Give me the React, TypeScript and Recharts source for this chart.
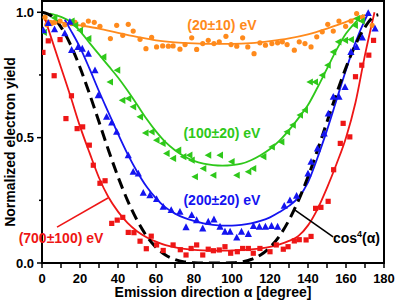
import React from "react";
import {
  ComposedChart,
  Line,
  Scatter,
  XAxis,
  YAxis,
  ReferenceArea,
  ReferenceLine,
  ReferenceDot,
} from "recharts";

// measured points, [angle in degree, normalized yield]
const pts20: [number, number][] = [
  [1.6, 0.98], [2.5, 0.95], [5, 0.955], [6.8, 0.96], [9.5, 0.965], [12, 0.95],
  [15.6, 0.955], [17.4, 0.96], [21.7, 0.95], [24.4, 0.965], [27.5, 0.96], [30.5, 0.944],
  [36, 0.895], [39.3, 0.948], [42.5, 0.908], [45.4, 0.952], [48, 0.925], [51.6, 0.892],
  [54.7, 0.855], [57.7, 0.9], [60.3, 0.862], [63.5, 0.866], [66.5, 0.865], [69, 0.866],
  [72.6, 0.853], [75.3, 0.871], [78.8, 0.898], [81.4, 0.852], [84.6, 0.875], [87.5, 0.888],
  [90.5, 0.875], [93.3, 0.882], [96.8, 0.904], [99.5, 0.871], [102.5, 0.865], [105.6, 0.898],
  [108.3, 0.862], [111.6, 0.835], [114.7, 0.878], [117.6, 0.869], [121, 0.875], [124, 0.878],
  [126.5, 0.882], [129, 0.871], [132.8, 0.849], [135.4, 0.882], [138.4, 0.875], [141.6, 0.862],
  [144.6, 0.902], [147.5, 0.922], [150.4, 0.952], [153.3, 0.925], [156.3, 0.965], [159.8, 0.944],
  [162.6, 0.965], [165.6, 0.995], [168.6, 0.98], [173.8, 0.948],
];

const pts100: [number, number][] = [
  [1, 0.92], [6.5, 0.978], [15.6, 0.965], [17.5, 0.948], [20, 0.928], [24.4, 0.895],
  [32.3, 0.822], [35.8, 0.722], [39.6, 0.769], [42.3, 0.649], [45.4, 0.656], [48, 0.623],
  [51.6, 0.583], [54.5, 0.519], [57.7, 0.523], [60.3, 0.49], [63.5, 0.477], [65.6, 0.437],
  [69, 0.417], [71.7, 0.45], [74.4, 0.424], [77.6, 0.43], [78.8, 0.41], [80.5, 0.344],
  [84.9, 0.377], [87.5, 0.43], [90.2, 0.35], [93.7, 0.43], [99.8, 0.404], [102.5, 0.35],
  [108.6, 0.364], [111.2, 0.377], [116.5, 0.424], [121, 0.463], [126, 0.483], [129, 0.523],
  [132, 0.55], [135.8, 0.59], [138.4, 0.61], [141, 0.722], [143.7, 0.722], [147.5, 0.749],
  [150.4, 0.789], [153.3, 0.842], [156, 0.882], [159.5, 0.888], [162.6, 0.891], [164.7, 0.948],
  [165.8, 0.975], [168.3, 0.965],
];

const pts200: [number, number][] = [
  [0.7, 0.928], [3.3, 0.957], [6.6, 0.932], [12, 0.916], [14.7, 0.962], [15.6, 0.85],
  [19, 0.862], [21.2, 0.855], [24.4, 0.835], [27.9, 0.769], [29.6, 0.669], [34, 0.583],
  [36.7, 0.56], [39.3, 0.523], [45.4, 0.43], [48, 0.364], [50.7, 0.357], [53.3, 0.28],
  [56.8, 0.27], [60.3, 0.255], [63.8, 0.224], [68, 0.211], [72.6, 0.204], [75.8, 0.143],
  [78.8, 0.191], [81.4, 0.171], [84.6, 0.138], [87.5, 0.165], [90.5, 0.174], [93.7, 0.145],
  [96.3, 0.125], [99, 0.125], [102.5, 0.102], [105, 0.125], [108.6, 0.116], [111.3, 0.148],
  [114.4, 0.145], [117.6, 0.145], [120.8, 0.148], [124, 0.145], [127.5, 0.228], [130.5, 0.25],
  [134, 0.268], [140, 0.357], [141.6, 0.404], [145, 0.457], [148.5, 0.517], [150.7, 0.596],
  [153.3, 0.663], [156.3, 0.663], [159.5, 0.702], [162.6, 0.842], [165.6, 0.862], [168.6, 0.899],
  [171.7, 0.997], [175.3, 0.935],
];

const pts700: [number, number][] = [
  [0.5, 0.84], [3.3, 0.886], [6.4, 0.747], [9.5, 0.891], [12.6, 0.576], [15.5, 0.667],
  [18.5, 0.536], [21.4, 0.543], [24.9, 0.47], [27, 0.39], [30.5, 0.318], [33.2, 0.328],
  [36.7, 0.158], [39.6, 0.171], [42.5, 0.182], [45.4, 0.122], [48.4, 0.121], [51.6, 0.087],
  [54.9, 0.057], [57.5, 0.107], [60.3, 0.072], [63.8, 0.05], [69, 0.072], [72.8, 0.053],
  [75.8, 0.032], [78.5, 0.058], [81.4, 0.072], [84.6, 0.032], [87.5, 0.055], [90.2, 0.049],
  [93.3, 0.052], [96.3, 0.065], [99.3, 0.039], [102.8, 0.045], [105.6, 0.058], [108.6, 0.058],
  [111.2, 0.039], [114.7, 0.058], [120, 0.045], [123.3, 0.072], [127, 0.055], [129.5, 0.065],
  [132.8, 0.088], [135.4, 0.093], [139, 0.092], [141.6, 0.106], [144, 0.218], [146.8, 0.222],
  [150.6, 0.246], [153.5, 0.372], [157, 0.477], [158.5, 0.557], [162, 0.503], [165, 0.743],
  [168.3, 0.789], [172, 0.829], [174.5, 0.888],
];

// fitted curves
const fit20: [number, number][] = [
  [1, 0.97], [10, 0.96], [20, 0.948], [30, 0.935], [40, 0.918], [50, 0.902], [60, 0.888],
  [70, 0.88], [80, 0.876], [90, 0.874], [100, 0.874], [110, 0.877], [120, 0.885], [130, 0.896],
  [140, 0.912], [150, 0.935], [160, 0.962], [170, 0.99],
];

const fit100: [number, number][] = [
  [4, 0.995], [10, 0.982], [15, 0.962], [20, 0.925], [25, 0.878], [30, 0.832], [35, 0.786],
  [40, 0.74], [45, 0.688], [50, 0.632], [55, 0.575], [60, 0.525], [65, 0.482], [70, 0.45],
  [75, 0.425], [80, 0.407], [85, 0.396], [90, 0.39], [95, 0.388], [100, 0.39], [105, 0.396],
  [110, 0.41], [115, 0.43], [120, 0.455], [125, 0.488], [130, 0.53], [135, 0.578], [140, 0.63],
  [145, 0.7], [150, 0.775], [155, 0.85], [160, 0.915], [165, 0.96], [169, 0.99],
];

const fit200: [number, number][] = [
  [12, 0.97], [15, 0.93], [20, 0.86], [25, 0.775], [30, 0.685], [35, 0.6], [40, 0.515],
  [45, 0.435], [50, 0.365], [55, 0.305], [60, 0.258], [65, 0.222], [70, 0.197], [75, 0.18],
  [80, 0.168], [85, 0.158], [90, 0.152], [95, 0.149], [100, 0.149], [105, 0.152], [110, 0.158],
  [115, 0.168], [120, 0.182], [125, 0.203], [130, 0.228], [135, 0.262], [140, 0.322],
  [145, 0.42], [150, 0.53], [155, 0.65], [160, 0.77], [165, 0.88], [170, 0.97], [172, 1.0],
];

const fit700: [number, number][] = [
  [1.5, 0.975], [5, 0.895], [10, 0.78], [15, 0.665], [20, 0.545], [25, 0.44], [30, 0.34],
  [35, 0.262], [40, 0.205], [45, 0.16], [50, 0.127], [55, 0.103], [60, 0.085], [65, 0.071],
  [70, 0.062], [75, 0.056], [80, 0.052], [85, 0.05], [90, 0.049], [95, 0.049], [100, 0.05],
  [105, 0.051], [110, 0.054], [115, 0.058], [120, 0.064], [125, 0.074], [130, 0.088],
  [135, 0.108], [140, 0.15], [145, 0.215], [150, 0.3], [155, 0.395], [160, 0.5], [165, 0.64],
  [170, 0.83], [175, 1.0],
];

// cos^4(alpha) reference
const cos4: [number, number][] = [
  [0, 1], [5, 0.985], [10, 0.941], [15, 0.871], [20, 0.78], [25, 0.675], [30, 0.563],
  [35, 0.45], [40, 0.344], [45, 0.25], [50, 0.171], [55, 0.108], [60, 0.0625], [65, 0.032],
  [70, 0.014], [75, 0.0045], [80, 0.0009], [85, 0.0001], [90, 0], [95, 0.0001], [100, 0.0009],
  [105, 0.0045], [110, 0.014], [115, 0.032], [120, 0.0625], [125, 0.108], [130, 0.171],
  [135, 0.25], [140, 0.344], [145, 0.45], [150, 0.563], [155, 0.675], [160, 0.78],
  [165, 0.871], [170, 0.941], [175, 0.985], [177, 0.99],
];

const xTicks = [0, 10, 20, 30, 40, 50, 60, 70, 80, 90, 100, 110, 120, 130, 140, 150, 160, 170, 180];
const yTicks = [0, 0.25, 0.5, 0.75, 1];

const ORANGE = "#ff8a1c";
const GREEN = "#2ec81a";
const BLUE = "#1414f0";
const RED = "#ee1616";
const FONT = "'Liberation Sans', Arial, sans-serif";

const toXY = (arr: [number, number][]) => arr.map(([x, y]) => ({ x, y }));

const Circle = ({ cx, cy }: any) => <circle cx={cx} cy={cy} r={2.6} fill={ORANGE} />;
const TriLeft = ({ cx, cy }: any) => (
  <path d={`M${cx - 3.6},${cy} L${cx + 3},${cy - 3.6} L${cx + 3},${cy + 3.6} Z`} fill={GREEN} />
);
const TriUp = ({ cx, cy }: any) => (
  <path d={`M${cx},${cy - 3.8} L${cx + 3.6},${cy + 3} L${cx - 3.6},${cy + 3} Z`} fill={BLUE} />
);
const Square = ({ cx, cy }: any) => (
  <rect x={cx - 2.6} y={cy - 2.6} width={5.2} height={5.2} fill={RED} />
);

const XTick = ({ x, y, payload }: any) => {
  const v = payload.value;
  return (
    <g>
      <line x1={x} y1={y} x2={x} y2={y + 5} stroke="#000" strokeWidth={1.5} />
      {v % 20 === 0 && (
        <text x={x} y={y + 19.5} textAnchor="middle" fontSize={13} fontWeight="bold" fill="#000" fontFamily={FONT}>
          {v}
        </text>
      )}
    </g>
  );
};

const YTick = ({ x, y, payload }: any) => {
  const v = payload.value;
  const major = Math.abs(v * 2 - Math.round(v * 2)) < 1e-6;
  return (
    <g>
      <line x1={x - (major ? 5 : 3)} y1={y} x2={x} y2={y} stroke="#000" strokeWidth={1.5} />
      {major && (
        <text x={x - 8} y={y + 4.7} textAnchor="end" fontSize={13} fontWeight="bold" fill="#000" fontFamily={FONT}>
          {v.toFixed(1)}
        </text>
      )}
    </g>
  );
};

const Tag = ({ viewBox, color, text }: any) => {
  const cx = viewBox.x + (viewBox.width || 0) / 2;
  const cy = viewBox.y + (viewBox.height || 0) / 2;
  return (
    <text x={cx} y={cy + 5} textAnchor="middle" fontSize={14} fontWeight="bold" fill={color} fontFamily={FONT}>
      {text}
    </text>
  );
};

const CosTag = ({ viewBox }: any) => {
  const cx = viewBox.x + (viewBox.width || 0) / 2;
  const cy = viewBox.y + (viewBox.height || 0) / 2;
  return (
    <text x={cx} y={cy + 5} textAnchor="middle" fontSize={14} fontWeight="bold" fill="#000" fontFamily={FONT}>
      cos
      <tspan dy={-6} fontSize={9}>4</tspan>
      <tspan dy={6}>(α)</tspan>
    </text>
  );
};

const App = () => {
  return (
    <div style={{ position: "absolute", left: 0, top: 0, background: "#fff" }}>
      <ComposedChart
        width={396}
        height={302}
        margin={{ top: 1, right: 12, bottom: 0, left: 0 }}
        style={{ fontFamily: FONT }}
      >
        <XAxis
          type="number"
          dataKey="x"
          domain={[0, 180]}
          ticks={xTicks}
          interval={0}
          height={39}
          axisLine={false}
          tickLine={false}
          tickSize={0}
          tickMargin={0}
          tick={<XTick />}
          allowDataOverflow
          label={{
            content: ({ viewBox }: any) => (
              <text
                x={viewBox.x + viewBox.width / 2}
                y={viewBox.y + 34}
                textAnchor="middle"
                fontSize={14}
                fontWeight="bold"
                fill="#000"
                fontFamily={FONT}
              >
                Emission direction α [degree]
              </text>
            ),
          }}
        />
        <YAxis
          type="number"
          domain={[0, 1.045]}
          ticks={yTicks}
          interval={0}
          width={42}
          axisLine={false}
          tickLine={false}
          tickSize={0}
          tickMargin={0}
          tick={<YTick />}
          allowDataOverflow
          label={{
            content: () => (
              <text
                x={15}
                y={142}
                transform="rotate(-90, 15, 142)"
                textAnchor="middle"
                fontSize={14}
                fontWeight="bold"
                fill="#000"
                fontFamily={FONT}
              >
                Normalized electron yield
              </text>
            ),
          }}
        />

        <Scatter data={toXY(pts20)} dataKey="y" shape={<Circle />} isAnimationActive={false} />
        <Scatter data={toXY(pts100)} dataKey="y" shape={<TriLeft />} isAnimationActive={false} />
        <Scatter data={toXY(pts200)} dataKey="y" shape={<TriUp />} isAnimationActive={false} />
        <Scatter data={toXY(pts700)} dataKey="y" shape={<Square />} isAnimationActive={false} />

        <Line data={toXY(fit20)} dataKey="y" type="monotone" stroke={ORANGE} strokeWidth={1.8} dot={false} isAnimationActive={false} />
        <Line data={toXY(fit100)} dataKey="y" type="monotone" stroke={GREEN} strokeWidth={1.8} dot={false} isAnimationActive={false} />
        <Line data={toXY(fit200)} dataKey="y" type="monotone" stroke={BLUE} strokeWidth={1.8} dot={false} isAnimationActive={false} />
        <Line data={toXY(fit700)} dataKey="y" type="monotone" stroke={RED} strokeWidth={1.8} dot={false} isAnimationActive={false} />
        <Line data={toXY(cos4)} dataKey="y" type="monotone" stroke="#000" strokeWidth={3} strokeDasharray="11 6" dot={false} isAnimationActive={false} />

        <ReferenceLine segment={[{ x: 7.9, y: 0.143 }, { x: 34.7, y: 0.259 }]} stroke={RED} strokeWidth={1.6} />
        <ReferenceLine segment={[{ x: 133.2, y: 0.211 }, { x: 153.2, y: 0.104 }]} stroke="#000" strokeWidth={1.6} />

        <ReferenceDot x={94.7} y={0.948} r={1} fill="none" stroke="none" label={<Tag color={ORANGE} text="(20±10) eV" />} />
        <ReferenceDot x={94.7} y={0.518} r={1} fill="none" stroke="none" label={<Tag color={GREEN} text="(100±20) eV" />} />
        <ReferenceDot x={94.7} y={0.252} r={1} fill="none" stroke="none" label={<Tag color={BLUE} text="(200±20) eV" />} />
        <ReferenceDot x={10} y={0.1} r={1} fill="none" stroke="none" label={<Tag color={RED} text="(700±100) eV" />} />
        <ReferenceDot x={165.5} y={0.1} r={1} fill="none" stroke="none" label={<CosTag />} />

        <ReferenceArea x1={0} x2={180} y1={0} y2={1.045} fill="none" stroke="#000" strokeWidth={2} />
      </ComposedChart>
    </div>
  );
};

export default App;
